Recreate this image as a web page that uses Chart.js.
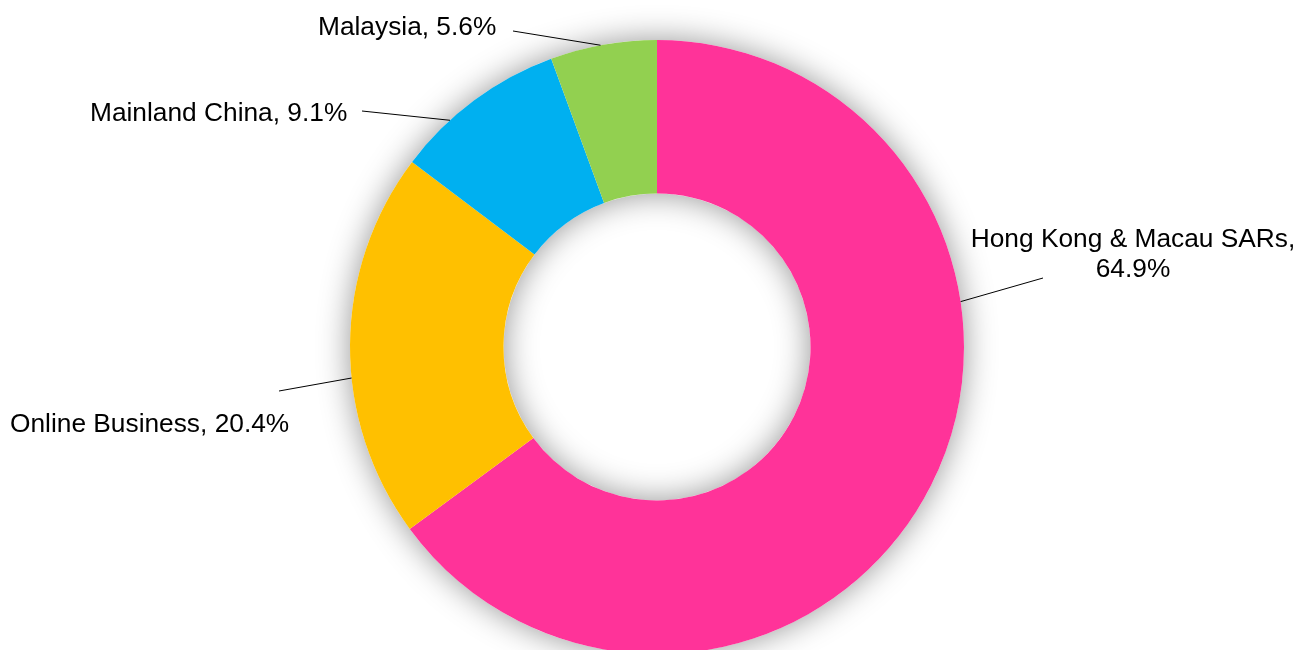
<!DOCTYPE html>
<html>
<head>
<meta charset="utf-8">
<script src="https://cdn.jsdelivr.net/npm/chart.js@4/dist/chart.umd.min.js"></script>
<style>
  html, body { margin: 0; padding: 0; background: #fff; overflow: hidden; }
  #wrap { width: 1301px; height: 650px; overflow: hidden; }
</style>
</head>
<body>
<div id="wrap"><canvas id="regionChart" width="1301" height="660"></canvas></div>
<script>
    // Revenue share by region, clockwise from 12 o'clock.
    const regions = ['Hong Kong & Macau SARs', 'Online Business', 'Mainland China', 'Malaysia'];
    const shares = [64.9, 20.4, 9.1, 5.6];
    const sliceColors = ['#ff3399', '#ffc000', '#00b0f0', '#92d050'];

    // Label placement (leader line start angle on the rim, line end, text anchor).
    const labelLayout = [
      { angle: 81.5,  lineEnd: [1043, 278], text: [1133, 240], align: 'center', split: true },
      { angle: 264.2, lineEnd: [279, 391],  text: [10, 425],   align: 'left' },
      { angle: 317.6, lineEnd: [362, 111],  text: [90, 114],   align: 'left' },
      { angle: 349.4, lineEnd: [513, 31],   text: [318, 28],   align: 'left' }
    ];

    /**
     * Soft glow behind the ring, visible outside and inside the hole.
     */
    const ringShadowPlugin = {
      id: 'ringShadow',
      beforeDatasetsDraw: function(chart) {
        const arc = chart.getDatasetMeta(0).data[0];
        if (!arc) { return; }
        const ctx = chart.ctx;
        ctx.save();
        ctx.beginPath();
        ctx.arc(arc.x, arc.y, arc.outerRadius, 0, Math.PI * 2);
        ctx.arc(arc.x, arc.y, arc.innerRadius, 0, Math.PI * 2, true);
        ctx.shadowColor = 'rgba(0,0,0,0.42)';
        ctx.shadowBlur = 32;
        ctx.fillStyle = '#fff';
        ctx.fill('evenodd');
        ctx.restore();
      }
    };

    /**
     * Outside labels with thin leader lines, like the spreadsheet original.
     */
    const outsideLabelsPlugin = {
      id: 'outsideLabels',
      afterDatasetsDraw: function(chart) {
        const meta = chart.getDatasetMeta(0);
        const ctx = chart.ctx;
        ctx.save();
        ctx.font = '26.3px "Liberation Sans", Arial, sans-serif';
        ctx.fillStyle = '#000';
        ctx.strokeStyle = '#000';
        ctx.lineWidth = 1;
        ctx.textBaseline = 'middle';
        meta.data.forEach(function(arc, i) {
          const lay = labelLayout[i];
          const rad = lay.angle * Math.PI / 180;
          const sx = arc.x + arc.outerRadius * Math.sin(rad);
          const sy = arc.y - arc.outerRadius * Math.cos(rad);
          ctx.beginPath();
          ctx.moveTo(sx, sy);
          ctx.lineTo(lay.lineEnd[0], lay.lineEnd[1]);
          ctx.stroke();

          const pct = chart.data.datasets[0].data[i].toFixed(1) + '%';
          const name = chart.data.labels[i];
          ctx.textAlign = lay.align;
          if (lay.split) {
            ctx.fillText(name + ',', lay.text[0], lay.text[1]);
            ctx.fillText(pct, lay.text[0], lay.text[1] + 30);
          } else {
            ctx.fillText(name + ', ' + pct, lay.text[0], lay.text[1]);
          }
        });
        ctx.restore();
      }
    };

    const ctx = document.getElementById('regionChart').getContext('2d');
    new Chart(ctx, {
      type: 'doughnut',
      data: {
        labels: regions,
        datasets: [{
          data: shares,
          backgroundColor: sliceColors,
          borderWidth: 0,
          hoverOffset: 0
        }]
      },
      options: {
        responsive: false,
        animation: { duration: 0 },
        cutout: '50%',
        layout: { padding: { top: 40, bottom: 6, left: 13, right: 0 } },
        plugins: {
          legend: { display: false },
          tooltip: { enabled: false }
        }
      },
      plugins: [ringShadowPlugin, outsideLabelsPlugin]
    });
</script>
</body>
</html>
